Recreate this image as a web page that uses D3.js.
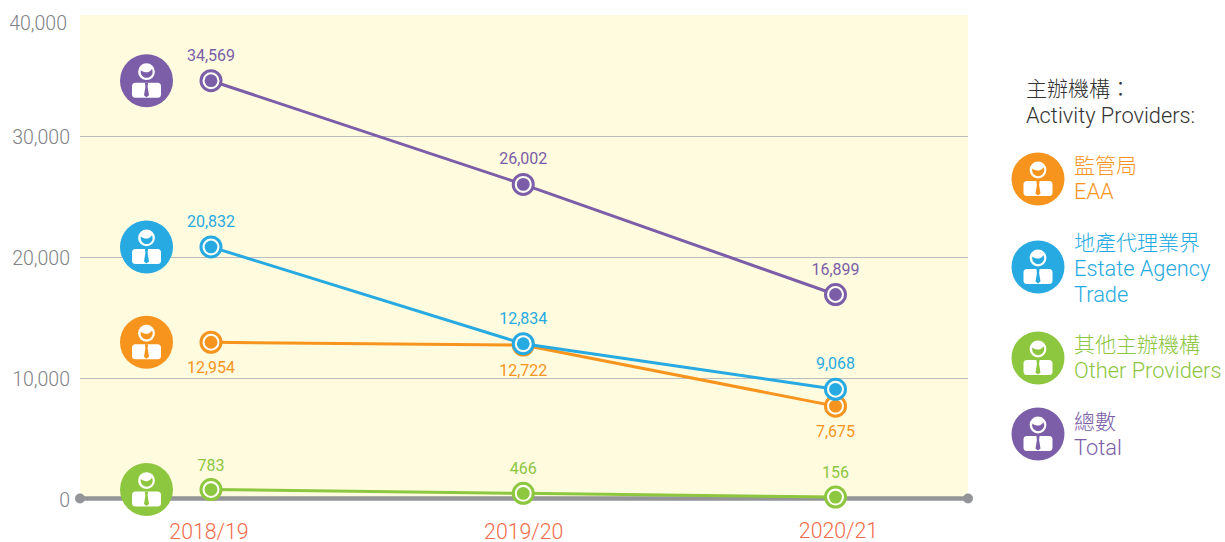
<!DOCTYPE html>
<html lang="zh-Hant">
<head>
<meta charset="utf-8">
<script src="https://cdn.jsdelivr.net/npm/d3@7"></script>
<style>
    html, body { margin: 0; padding: 0; background: #fff; }
    svg { display: block; }
    text { font-family: Roboto, "Noto Sans CJK TC", sans-serif; font-weight: 300; }
</style>
</head>
<body>
<div id="chart"></div>
<script>
const years = ["2018/19", "2019/20", "2020/21"];
const eaaValues = [12954, 12722, 7675];
const otherValues = [783, 466, 156];
const tradeValues = [20832, 12834, 9068];
const totalValues = [34569, 26002, 16899];
const yTicks = [0, 10000, 20000, 30000, 40000];

const eaaColor = "#f7941e";
const otherColor = "#8dc63f";
const tradeColor = "#27aae1";
const totalColor = "#7b5ea7";

const width = 1225;
const height = 542;
const plot = { left: 80, right: 968, top: 15, bottom: 499 };

const svg = d3.select("#chart")
    .append("svg")
    .attr("width", width)
    .attr("height", height)
    .attr("viewBox", `0 0 ${width} ${height}`);

const x = d3.scalePoint()
    .domain(years)
    .range([211, 835.5]);
// the year captions are spread a little wider than the points
const yearX = d3.scalePoint()
    .domain(years)
    .range([209, 838.5]);
const y = d3.scaleLinear()
    .domain([0, 40000])
    .range([plot.bottom, plot.top]);

svg.append("rect")
    .attr("x", plot.left)
    .attr("y", plot.top)
    .attr("width", plot.right - plot.left)
    .attr("height", plot.bottom - plot.top)
    .style("fill", "#fffbdf");

svg.selectAll(".grid")
    .data(yTicks.slice(1, 4))
    .enter().append("line")
    .attr("class", "grid")
    .attr("x1", plot.left)
    .attr("x2", plot.right)
    .attr("y1", d => Math.round(y(d)) + 0.5)
    .attr("y2", d => Math.round(y(d)) + 0.5)
    .style("stroke", "#bcbdc0")
    .style("stroke-width", 1.2);

const yAxis = svg.append("g")
    .attr("transform", `translate(${plot.left}, 0)`)
    .call(d3.axisLeft(y).tickValues(yTicks).tickFormat(d3.format(",")).tickSize(0).tickPadding(10));
yAxis.select(".domain").remove();
yAxis.selectAll("text")
    .style("font-size", "19.5px")
    .style("font-family", "Roboto")
    .style("font-weight", 300)
    .style("fill", "#808285")
    .attr("dx", d => d === 40000 ? -3 : 0)
    .attr("dy", d => d === 40000 ? "0.75em" : "0.38em");

// baseline with round end caps
svg.append("line")
    .attr("x1", plot.left)
    .attr("x2", plot.right)
    .attr("y1", y(0) - 0.5)
    .attr("y2", y(0) - 0.5)
    .style("stroke", "#939598")
    .style("stroke-width", 4.5);
svg.selectAll(".axis-end")
    .data([plot.left, plot.right])
    .enter().append("circle")
    .attr("class", "axis-end")
    .attr("cx", d => d)
    .attr("cy", y(0) - 0.5)
    .attr("r", 5)
    .style("fill", "#939598");

svg.selectAll(".year")
    .data(years)
    .enter().append("text")
    .attr("class", "year")
    .attr("x", d => yearX(d))
    .attr("y", (d, i) => i === 2 ? 537.5 : 538.5)
    .attr("text-anchor", "middle")
    .style("font-size", "21.3px")
    .style("fill", "#f26b4a")
    .text(d => d);

function drawPerson(cx, cy, color) {
    const g = svg.append("g").attr("transform", `translate(${cx}, ${cy})`);
    g.append("circle").attr("r", 26.5).style("fill", color);
    g.append("circle").attr("cy", -9).attr("r", 8.4).style("fill", "#fff");
    // face sits under the white fringe
    g.append("path")
        .attr("d", "M-5.6,-10.5 C-2,-7.5 3,-7.5 5.4,-11.8 A6,6 0 1 1 -5.6,-10.5 Z")
        .style("fill", color);
    g.append("rect")
        .attr("x", -14.5)
        .attr("y", 2)
        .attr("width", 29)
        .attr("height", 15)
        .attr("rx", 3.5)
        .style("fill", "#fff");
    g.append("path")
        .attr("d", "M-1.6,2 L1.6,2 L1.1,6 L2.5,14.5 L0,16.5 L-2.5,14.5 L-1.1,6 Z")
        .style("fill", color);
}

const series = [
    { name: "eaa", values: eaaValues, color: eaaColor, labelDy: 31 },
    { name: "other", values: otherValues, color: otherColor, labelDy: -19 },
    { name: "trade", values: tradeValues, color: tradeColor, labelDy: -20 },
    { name: "total", values: totalValues, color: totalColor, labelDy: -20 }
];

const line = d3.line()
    .x((d, i) => x(years[i]))
    .y(d => y(d));

series.forEach(s => {
    svg.append("path")
        .attr("d", line(s.values))
        .style("fill", "none")
        .style("stroke", s.color)
        .style("stroke-width", 3);

    const points = svg.selectAll(`.point-${s.name}`)
        .data(s.values)
        .enter().append("g")
        .attr("class", `point-${s.name}`)
        .attr("transform", (d, i) => `translate(${x(years[i])}, ${y(d)})`);
    points.append("circle")
        .attr("r", 10)
        .style("fill", "#fffef6")
        .style("stroke", s.color)
        .style("stroke-width", 3);
    points.append("circle")
        .attr("r", 6.4)
        .style("fill", s.color);

    svg.selectAll(`.value-${s.name}`)
        .data(s.values)
        .enter().append("text")
        .attr("class", `value-${s.name}`)
        .attr("x", (d, i) => x(years[i]))
        .attr("y", d => y(d) + s.labelDy)
        .attr("text-anchor", "middle")
        .style("font-size", "16px")
        .style("font-weight", 400)
        .style("fill", s.color)
        .text(d => d3.format(",")(d));

    drawPerson(146.5, y(s.values[0]), s.color);
});

const legendTitle = ["主辦機構：", "Activity Providers:"];
const legendEntries = [
    { lines: ["監管局", "EAA"], color: eaaColor, iconY: 179, textY: 173 },
    { lines: ["地產代理業界", "Estate Agency", "Trade"], color: tradeColor, iconY: 267, textY: 250 },
    { lines: ["其他主辦機構", "Other Providers"], color: otherColor, iconY: 358, textY: 352 },
    { lines: ["總數", "Total"], color: totalColor, iconY: 434, textY: 429 }
];
const legendFontSize = d => /^[\x00-\x7f]+$/.test(d) ? "21.8px" : "21px";

svg.selectAll(".legend-title")
    .data(legendTitle)
    .enter().append("text")
    .attr("class", "legend-title")
    .attr("x", 1026)
    .attr("y", (d, i) => 96 + i * 27)
    .style("font-size", legendFontSize)
    .style("fill", "#333")
    .text(d => d);

legendEntries.forEach(entry => {
    drawPerson(1038, entry.iconY, entry.color);
    svg.selectAll(null)
        .data(entry.lines)
        .enter().append("text")
        .attr("x", 1074)
        .attr("y", (d, i) => entry.textY + i * 26)
        .style("font-size", legendFontSize)
        .style("fill", entry.color)
        .text(d => d);
});
</script>
</body>
</html>
